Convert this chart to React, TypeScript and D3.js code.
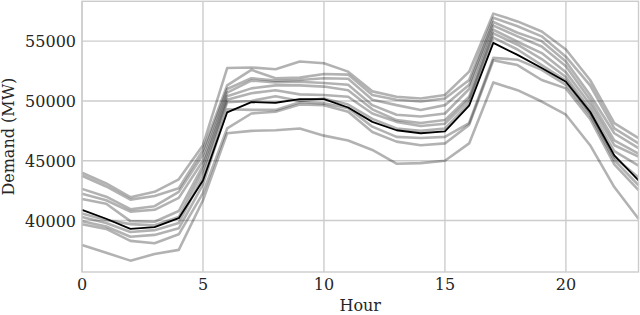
import React from "react";
import * as d3 from "d3";

// hour of day
const hours = d3.range(0, 24);

// individual demand profiles (MW), one per line
const profiles: number[][] = [
  [44000, 43100, 41950, 42400, 43450, 46300, 52750, 52800, 52650, 53300, 53150, 52450, 50800, 50350, 50200, 50500, 52450, 57300, 56650, 55800, 54300, 51750, 48150, 46900],
  [43750, 42850, 41750, 42050, 42700, 45900, 51300, 52600, 51900, 51950, 52250, 52200, 50500, 50100, 49950, 50200, 51750, 56950, 56250, 55400, 53700, 51300, 47700, 46450],
  [42650, 42000, 40950, 41200, 42400, 45500, 51000, 51900, 51700, 51750, 51900, 51850, 50100, 49650, 49250, 49650, 51350, 56600, 55700, 55000, 53300, 50500, 47300, 46050],
  [42250, 41700, 40750, 40900, 41900, 45000, 50700, 51700, 51550, 51600, 51500, 51350, 49650, 48850, 48700, 48950, 51000, 56300, 55400, 54550, 52900, 50100, 46700, 45600],
  [41800, 41400, 39950, 39900, 40800, 44600, 50400, 51050, 51300, 51300, 51200, 50900, 49300, 48400, 48150, 48400, 50350, 55950, 54950, 54000, 52400, 49700, 46300, 45350],
  [40600, 40050, 39700, 39600, 40300, 44200, 50100, 50650, 50900, 50550, 50500, 50350, 48950, 48250, 47900, 48100, 50100, 55650, 54700, 53500, 52000, 49300, 45800, 44600],
  [40300, 39800, 39050, 39200, 39800, 43700, 49900, 50000, 50400, 50000, 50200, 49700, 48500, 47700, 47500, 47700, 49800, 55300, 54300, 53000, 51700, 49000, 45300, 43600],
  [39950, 39500, 38650, 38800, 39350, 43000, 49300, 49250, 49250, 49900, 49800, 49400, 47850, 47000, 46900, 47000, 48150, 53600, 53450, 52600, 51350, 48800, 45050, 42950],
  [39700, 39300, 38300, 38100, 38850, 42300, 47700, 48950, 49100, 49700, 49650, 49100, 47400, 46600, 46300, 46450, 48000, 53400, 53000, 51750, 51050, 48500, 44700, 42550],
  [37950, 37300, 36650, 37200, 37550, 41700, 47300, 47500, 47550, 47700, 47100, 46700, 45900, 44750, 44800, 45000, 46450, 51550, 50900, 49950, 48850, 46300, 42800, 40150],
];

// highlighted profile (black)
const highlight = [40900, 40150, 39300, 39450, 40200, 43350, 49050, 49900, 49850, 50150, 50150, 49450, 48250, 47550, 47300, 47450, 49600, 54850, 53850, 52750, 51600, 49100, 45450, 43350];

const xTicks = [0, 5, 10, 15, 20];
const yTicks = [40000, 45000, 50000, 55000];

const W = 640;
const H = 315;
const left = 82;
const right = 638.5;
const top = 1.3;
const bottom = 272;

const font = "'DejaVu Serif', serif";
const textColor = "#262626";
const gridColor = "#cccccc";

export default function App() {
  const x = d3.scaleLinear().domain([0, 23]).range([left, right]);
  const y = d3.scaleLinear().domain([35700, 58330]).range([bottom, top]);

  const line = d3
    .line<number>()
    .x((_, i) => x(hours[i]))
    .y((d) => y(d));

  return (
    <svg
      width={W}
      height={H}
      style={{ position: "fixed", left: 0, top: 0, background: "#fff" }}
    >
      <rect x={0} y={0} width={W} height={H} fill="#fff" />
      {/* grid */}
      {xTicks.map((t) => (
        <line key={"gx" + t} x1={x(t)} x2={x(t)} y1={top} y2={bottom} stroke={gridColor} strokeWidth={1.4} />
      ))}
      {yTicks.map((t) => (
        <line key={"gy" + t} x1={left} x2={right} y1={y(t)} y2={y(t)} stroke={gridColor} strokeWidth={1.4} />
      ))}
      {/* profiles */}
      {profiles.map((p, i) => (
        <path
          key={"p" + i}
          d={line(p) ?? ""}
          fill="none"
          stroke="#000"
          strokeOpacity={0.3}
          strokeWidth={2.6}
          strokeLinejoin="round"
        />
      ))}
      <path d={line(highlight) ?? ""} fill="none" stroke="#000" strokeWidth={1.8} strokeLinejoin="round" />
      {/* frame */}
      <rect
        x={left}
        y={top}
        width={right - left}
        height={bottom - top}
        fill="none"
        stroke={gridColor}
        strokeWidth={1.4}
      />
      {/* tick labels */}
      {xTicks.map((t) => (
        <text key={"tx" + t} x={x(t)} y={290} textAnchor="middle" fontFamily={font} fontSize={16} fill={textColor}>
          {t}
        </text>
      ))}
      {yTicks.map((t) => (
        <text key={"ty" + t} x={76} y={y(t) + 6} textAnchor="end" fontFamily={font} fontSize={16} fill={textColor}>
          {t}
        </text>
      ))}
      <text x={(left + right) / 2} y={311} textAnchor="middle" fontFamily={font} fontSize={16} fill={textColor}>
        Hour
      </text>
      <text
        transform={`translate(14, ${(top + bottom) / 2}) rotate(-90)`}
        textAnchor="middle"
        fontFamily={font}
        fontSize={16}
        fill={textColor}
      >
        Demand (MW)
      </text>
    </svg>
  );
}
